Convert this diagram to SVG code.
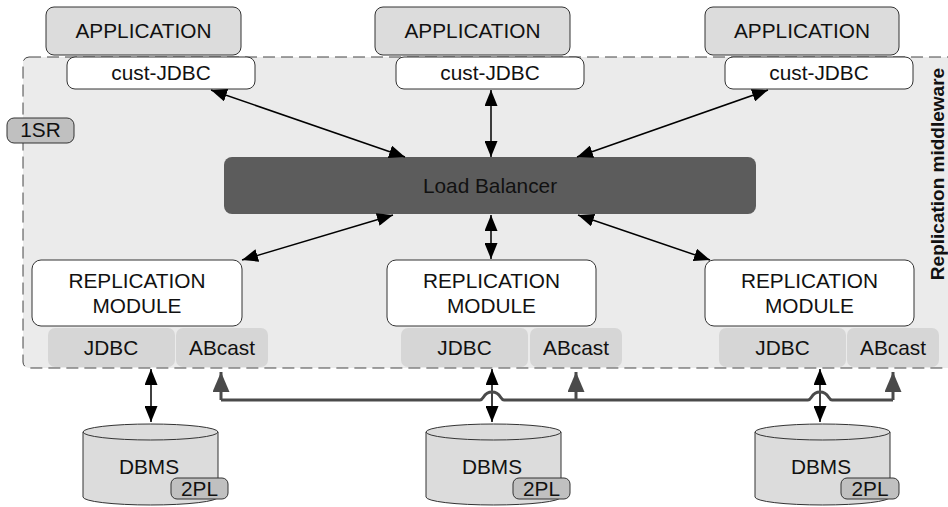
<svg xmlns="http://www.w3.org/2000/svg" width="948" height="507" viewBox="0 0 948 507">
<defs>
<style>
text{font-family:"Liberation Sans",Arial,sans-serif;font-size:20.8px;fill:#111;text-anchor:middle}
.app{fill:#dcdcdc;stroke:#333;stroke-width:1}
.cj{fill:#fff;stroke:#333;stroke-width:1}
.rm{fill:#fff;stroke:#333;stroke-width:1}
.sub{fill:#d6d6d6}
.tag{fill:#c0c0c0;stroke:#333;stroke-width:1}
.cyl{fill:#dcdcdc;stroke:#333;stroke-width:1}
.arr{stroke:#000;stroke-width:1.5;fill:none;marker-start:url(#ah);marker-end:url(#ah)}
.bus{stroke:#4a4a4a;stroke-width:3;fill:none}
.busa{stroke:#4a4a4a;stroke-width:3;fill:none;marker-end:url(#gh)}
</style>
<marker id="ah" markerUnits="userSpaceOnUse" markerWidth="16" markerHeight="13" refX="16" refY="6.5" orient="auto-start-reverse"><path d="M0,0 L16,6.5 L0,13 z" fill="#000"/></marker>
<marker id="gh" markerUnits="userSpaceOnUse" markerWidth="20" markerHeight="17" refX="20" refY="8.5" orient="auto"><path d="M0,0 L20,8.5 L0,17 z" fill="#4a4a4a"/></marker>
</defs>
<rect width="948" height="507" fill="#fff"/>
<g id="container">
<rect x="23" y="57" width="940" height="311" rx="6" fill="#ebebeb" stroke="#444" stroke-width="1" stroke-dasharray="12,6"/>
<text x="944" y="174" transform="rotate(-90 944 174)" style="font-weight:bold;font-size:19px">Replication middleware</text>
</g>
<g id="sr1"><rect class="tag" x="7" y="118" width="67" height="25" rx="7"/><text x="40.5" y="137">1SR</text></g>
<g id="app1"><rect class="app" x="46" y="7" width="195" height="48" rx="8"/><text x="143.5" y="38">APPLICATION</text></g>
<g id="app2"><rect class="app" x="375" y="7" width="195" height="48" rx="8"/><text x="472.5" y="38">APPLICATION</text></g>
<g id="app3"><rect class="app" x="705" y="7" width="194" height="48" rx="8"/><text x="802" y="38">APPLICATION</text></g>
<g id="cj1"><rect class="cj" x="67" y="57" width="188" height="32" rx="8"/><text x="161" y="80">cust-JDBC</text></g>
<g id="cj2"><rect class="cj" x="396" y="57" width="188" height="32" rx="8"/><text x="490" y="80">cust-JDBC</text></g>
<g id="cj3"><rect class="cj" x="725" y="57" width="188" height="32" rx="8"/><text x="819" y="80">cust-JDBC</text></g>
<g id="lb"><rect x="224" y="157" width="532" height="57" rx="8" fill="#5c5c5c"/><text x="490" y="193">Load Balancer</text></g>
<g id="rm1"><rect class="rm" x="32" y="260" width="210" height="66" rx="9"/><text x="137" y="288">REPLICATION</text><text x="137" y="313">MODULE</text></g>
<g id="rm2"><rect class="rm" x="387" y="260" width="209" height="66" rx="9"/><text x="491.5" y="288">REPLICATION</text><text x="491.5" y="313">MODULE</text></g>
<g id="rm3"><rect class="rm" x="705" y="260" width="209" height="66" rx="9"/><text x="809.5" y="288">REPLICATION</text><text x="809.5" y="313">MODULE</text></g>
<g id="jdbc1"><rect class="sub" x="48" y="328" width="127" height="39" rx="7"/><text x="111" y="355">JDBC</text></g>
<g id="ab1"><rect class="sub" x="176" y="328" width="92" height="39" rx="7"/><text x="222" y="355">ABcast</text></g>
<g id="jdbc2"><rect class="sub" x="401" y="328" width="127" height="39" rx="7"/><text x="464.5" y="355">JDBC</text></g>
<g id="ab2"><rect class="sub" x="530" y="328" width="92" height="39" rx="7"/><text x="576" y="355">ABcast</text></g>
<g id="jdbc3"><rect class="sub" x="719" y="328" width="127" height="39" rx="7"/><text x="782.5" y="355">JDBC</text></g>
<g id="ab3"><rect class="sub" x="847" y="328" width="92" height="39" rx="7"/><text x="893" y="355">ABcast</text></g>
<g id="connectors">
<line class="arr" x1="211" y1="90" x2="405" y2="157"/>
<line class="arr" x1="491" y1="90" x2="491" y2="157"/>
<line class="arr" x1="768" y1="90" x2="577" y2="157"/>
<line class="arr" x1="393" y1="215" x2="242" y2="260"/>
<line class="arr" x1="491" y1="215" x2="491" y2="259"/>
<line class="arr" x1="578" y1="215" x2="710" y2="260"/>
<line class="arr" x1="151" y1="369" x2="151" y2="422"/>
<line class="arr" x1="492" y1="369" x2="492" y2="422"/>
<line class="arr" x1="820" y1="369" x2="820" y2="422"/>
<path class="bus" d="M221,400 L480,400 C484,400 483,392 492,392 C501,392 500,400 504,400 L808,400 C812,400 811,392 820,392 C829,392 828,400 832,400 L893,400"/>
<path class="busa" d="M221,400 L221,372"/>
<path class="busa" d="M576,400 L576,372"/>
<path class="busa" d="M893,400 L893,372"/>
</g>
<g id="db1"><path class="cyl" d="M83,432 L83,497 A67.5,8 0 0 0 218,497 L218,432"/><ellipse class="cyl" cx="150.5" cy="432" rx="67.5" ry="8"/><text x="149" y="474">DBMS</text><rect class="tag" x="171" y="478" width="57" height="21" rx="6"/><text x="199.5" y="496">2PL</text></g>
<g id="db2"><path class="cyl" d="M426,432 L426,497 A67.5,8 0 0 0 561,497 L561,432"/><ellipse class="cyl" cx="493.5" cy="432" rx="67.5" ry="8"/><text x="492" y="474">DBMS</text><rect class="tag" x="513" y="478" width="57" height="21" rx="6"/><text x="541.5" y="496">2PL</text></g>
<g id="db3"><path class="cyl" d="M755,432 L755,497 A67.5,8 0 0 0 890,497 L890,432"/><ellipse class="cyl" cx="822.5" cy="432" rx="67.5" ry="8"/><text x="821" y="474">DBMS</text><rect class="tag" x="841" y="478" width="58" height="21" rx="6"/><text x="870" y="496">2PL</text></g>
</svg>
